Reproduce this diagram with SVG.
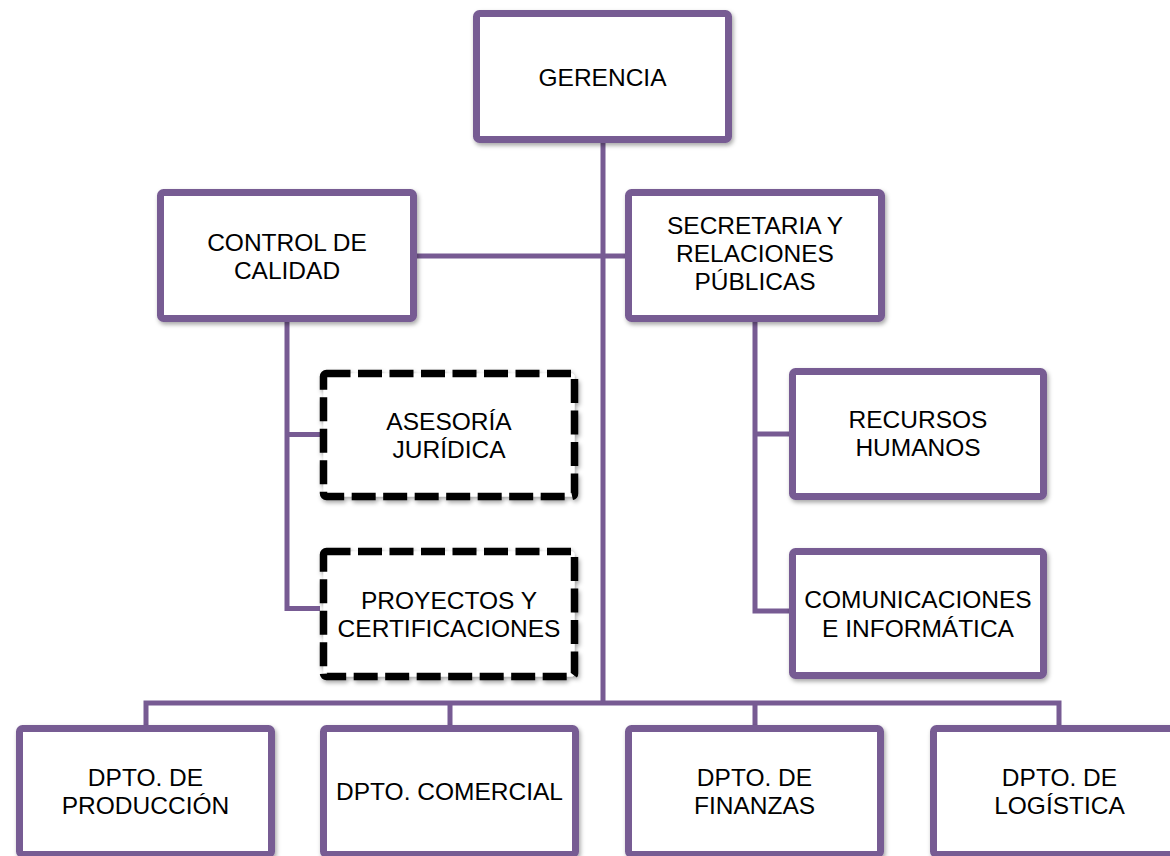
<svg xmlns="http://www.w3.org/2000/svg" width="1170" height="856" viewBox="0 0 1170 856">
<defs>
<filter id="sh" x="-10%" y="-10%" width="125%" height="130%">
<feDropShadow dx="1.5" dy="2.5" stdDeviation="2" flood-color="#000" flood-opacity="0.35"/>
</filter>
<style>
.box{fill:#fff;stroke:#775B93;stroke-width:7;filter:url(#sh)}
.dash{fill:#fff;stroke:#000;stroke-width:7.5;stroke-dasharray:24 7.5;filter:url(#sh)}
.ln{fill:none;stroke:#775B93;stroke-width:5}
text{font-family:"Liberation Sans",Arial,sans-serif;font-size:24.5px;fill:#000;text-anchor:middle}
</style>
</defs>
<rect width="1170" height="856" fill="#fff"/>
<g id="connectors">
<path class="ln" d="M603,143 V703"/>
<path class="ln" d="M417,256 H625"/>
<path class="ln" d="M287,322 V608.5 H320 M287,434.5 H320"/>
<path class="ln" d="M755,322 V611 H789 M755,434 H789"/>
<path class="ln" d="M146,725 V703 H1059 V725 M450,703 V725 M755,703 V725"/>
</g>
<g id="gerencia">
<rect class="box" x="476.5" y="13.5" width="252" height="126" rx="3"/>
<text x="602.5" y="85.5">GERENCIA</text>
</g>
<g id="control-calidad">
<rect class="box" x="160.5" y="192.5" width="253" height="126" rx="3"/>
<text x="287" y="250.8">CONTROL DE<tspan x="287" dy="28.2">CALIDAD</tspan></text>
</g>
<g id="secretaria">
<rect class="box" x="628.5" y="192.5" width="253" height="126" rx="3"/>
<text x="755" y="234">SECRETARIA Y<tspan x="755" dy="28.2">RELACIONES</tspan><tspan x="755" dy="28.2">PÚBLICAS</tspan></text>
</g>
<g id="asesoria">
<rect class="dash" x="323.5" y="373.5" width="251" height="123" rx="3"/>
<text x="449" y="429.8">ASESORÍA<tspan x="449" dy="28.2">JURÍDICA</tspan></text>
</g>
<g id="proyectos">
<rect class="dash" x="323.5" y="551.5" width="251" height="125" rx="3"/>
<text x="449" y="608.8">PROYECTOS Y<tspan x="449" dy="28.2">CERTIFICACIONES</tspan></text>
</g>
<g id="recursos">
<rect class="box" x="792.5" y="371.5" width="251" height="125" rx="3"/>
<text x="918" y="428.2">RECURSOS<tspan x="918" dy="28.2">HUMANOS</tspan></text>
</g>
<g id="comunicaciones">
<rect class="box" x="792.5" y="551.5" width="251" height="124" rx="3"/>
<text x="918" y="608.3">COMUNICACIONES<tspan x="918" dy="28.2">E INFORMÁTICA</tspan></text>
</g>
<g id="produccion">
<rect class="box" x="19.5" y="728.5" width="252" height="126" rx="3"/>
<text x="145.5" y="785.8">DPTO. DE<tspan x="145.5" dy="28.2">PRODUCCIÓN</tspan></text>
</g>
<g id="comercial">
<rect class="box" x="323.5" y="728.5" width="252" height="126" rx="3"/>
<text x="449.5" y="800">DPTO. COMERCIAL</text>
</g>
<g id="finanzas">
<rect class="box" x="628.5" y="728.5" width="252" height="126" rx="3"/>
<text x="754.5" y="785.8">DPTO. DE<tspan x="754.5" dy="28.2">FINANZAS</tspan></text>
</g>
<g id="logistica">
<rect class="box" x="933.5" y="728.5" width="252" height="126" rx="3"/>
<text x="1059.5" y="785.8">DPTO. DE<tspan x="1059.5" dy="28.2">LOGÍSTICA</tspan></text>
</g>
</svg>
